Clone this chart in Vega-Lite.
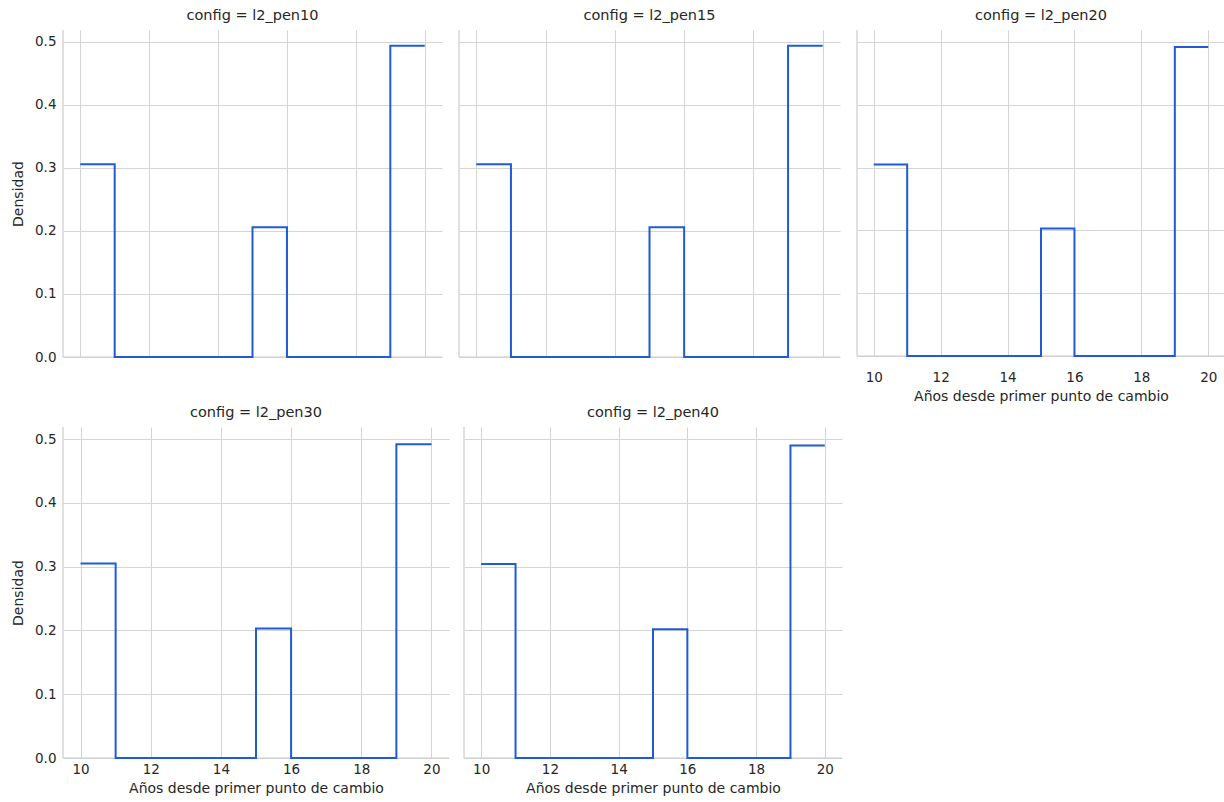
{
  "$schema": "https://vega.github.io/schema/vega-lite/v6.json",
  "padding": {"left": 11, "top": 7, "right": 0, "bottom": 0},
  "background": "white",
  "datasets": {
    "hist": [
      {"config": "l2_pen10", "bin_start": 10, "bin_end": 11, "density": 0.306},
      {"config": "l2_pen10", "bin_start": 11, "bin_end": 12, "density": 0},
      {"config": "l2_pen10", "bin_start": 12, "bin_end": 13, "density": 0},
      {"config": "l2_pen10", "bin_start": 13, "bin_end": 14, "density": 0},
      {"config": "l2_pen10", "bin_start": 14, "bin_end": 15, "density": 0},
      {"config": "l2_pen10", "bin_start": 15, "bin_end": 16, "density": 0.206},
      {"config": "l2_pen10", "bin_start": 16, "bin_end": 17, "density": 0},
      {"config": "l2_pen10", "bin_start": 17, "bin_end": 18, "density": 0},
      {"config": "l2_pen10", "bin_start": 18, "bin_end": 19, "density": 0},
      {"config": "l2_pen10", "bin_start": 19, "bin_end": 20, "density": 0.494},
      {"config": "l2_pen15", "bin_start": 10, "bin_end": 11, "density": 0.306},
      {"config": "l2_pen15", "bin_start": 11, "bin_end": 12, "density": 0},
      {"config": "l2_pen15", "bin_start": 12, "bin_end": 13, "density": 0},
      {"config": "l2_pen15", "bin_start": 13, "bin_end": 14, "density": 0},
      {"config": "l2_pen15", "bin_start": 14, "bin_end": 15, "density": 0},
      {"config": "l2_pen15", "bin_start": 15, "bin_end": 16, "density": 0.206},
      {"config": "l2_pen15", "bin_start": 16, "bin_end": 17, "density": 0},
      {"config": "l2_pen15", "bin_start": 17, "bin_end": 18, "density": 0},
      {"config": "l2_pen15", "bin_start": 18, "bin_end": 19, "density": 0},
      {"config": "l2_pen15", "bin_start": 19, "bin_end": 20, "density": 0.494},
      {"config": "l2_pen20", "bin_start": 10, "bin_end": 11, "density": 0.305},
      {"config": "l2_pen20", "bin_start": 11, "bin_end": 12, "density": 0},
      {"config": "l2_pen20", "bin_start": 12, "bin_end": 13, "density": 0},
      {"config": "l2_pen20", "bin_start": 13, "bin_end": 14, "density": 0},
      {"config": "l2_pen20", "bin_start": 14, "bin_end": 15, "density": 0},
      {"config": "l2_pen20", "bin_start": 15, "bin_end": 16, "density": 0.203},
      {"config": "l2_pen20", "bin_start": 16, "bin_end": 17, "density": 0},
      {"config": "l2_pen20", "bin_start": 17, "bin_end": 18, "density": 0},
      {"config": "l2_pen20", "bin_start": 18, "bin_end": 19, "density": 0},
      {"config": "l2_pen20", "bin_start": 19, "bin_end": 20, "density": 0.492},
      {"config": "l2_pen30", "bin_start": 10, "bin_end": 11, "density": 0.305},
      {"config": "l2_pen30", "bin_start": 11, "bin_end": 12, "density": 0},
      {"config": "l2_pen30", "bin_start": 12, "bin_end": 13, "density": 0},
      {"config": "l2_pen30", "bin_start": 13, "bin_end": 14, "density": 0},
      {"config": "l2_pen30", "bin_start": 14, "bin_end": 15, "density": 0},
      {"config": "l2_pen30", "bin_start": 15, "bin_end": 16, "density": 0.203},
      {"config": "l2_pen30", "bin_start": 16, "bin_end": 17, "density": 0},
      {"config": "l2_pen30", "bin_start": 17, "bin_end": 18, "density": 0},
      {"config": "l2_pen30", "bin_start": 18, "bin_end": 19, "density": 0},
      {"config": "l2_pen30", "bin_start": 19, "bin_end": 20, "density": 0.492},
      {"config": "l2_pen40", "bin_start": 10, "bin_end": 11, "density": 0.304},
      {"config": "l2_pen40", "bin_start": 11, "bin_end": 12, "density": 0},
      {"config": "l2_pen40", "bin_start": 12, "bin_end": 13, "density": 0},
      {"config": "l2_pen40", "bin_start": 13, "bin_end": 14, "density": 0},
      {"config": "l2_pen40", "bin_start": 14, "bin_end": 15, "density": 0},
      {"config": "l2_pen40", "bin_start": 15, "bin_end": 16, "density": 0.202},
      {"config": "l2_pen40", "bin_start": 16, "bin_end": 17, "density": 0},
      {"config": "l2_pen40", "bin_start": 17, "bin_end": 18, "density": 0},
      {"config": "l2_pen40", "bin_start": 18, "bin_end": 19, "density": 0},
      {"config": "l2_pen40", "bin_start": 19, "bin_end": 20, "density": 0.490}
    ]
  },
  "vconcat": [
    {
      "spacing": 15,
      "hconcat": [
        {
          "title": "config = l2_pen10",
          "width": 379,
          "height": 327,
          "data": {"name": "hist"},
          "layer": [
            {"data": {"values": [{}]}, "mark": {"type": "rule", "color": "#cccccc", "strokeWidth": 1.2}, "encoding": {"y": {"datum": 0, "type": "quantitative"}}},
            {"data": {"values": [{}]}, "mark": {"type": "rule", "color": "#cccccc", "strokeWidth": 1.2}, "encoding": {"x": {"datum": 9.5, "type": "quantitative"}}},
            {
              "transform": [{"filter": "datum.config === 'l2_pen10'"}, {"fold": ["bin_start", "bin_end"], "as": ["edge", "x"]}],
              "mark": {"type": "line", "color": "#1f5bd6", "strokeWidth": 2},
              "encoding": {
                "x": {"field": "x", "type": "quantitative", "scale": {"domain": [9.5, 20.5], "nice": false, "zero": false}, "axis": {"labels": false, "title": null, "values": [10, 12, 14, 16, 18, 20]}},
                "y": {"field": "density", "type": "quantitative", "scale": {"domain": [0, 0.519], "nice": false}, "axis": {"title": "Densidad", "values": [0, 0.1, 0.2, 0.3, 0.4, 0.5], "format": ".1f", "titlePadding": 9}},
                "order": [{"field": "bin_start", "type": "quantitative"}, {"field": "x", "type": "quantitative"}]
              }
            }
          ]
        },
        {
          "title": "config = l2_pen15",
          "width": 381,
          "height": 327,
          "data": {"name": "hist"},
          "layer": [
            {"data": {"values": [{}]}, "mark": {"type": "rule", "color": "#cccccc", "strokeWidth": 1.2}, "encoding": {"y": {"datum": 0, "type": "quantitative"}}},
            {"data": {"values": [{}]}, "mark": {"type": "rule", "color": "#cccccc", "strokeWidth": 1.2}, "encoding": {"x": {"datum": 9.5, "type": "quantitative"}}},
            {
              "transform": [{"filter": "datum.config === 'l2_pen15'"}, {"fold": ["bin_start", "bin_end"], "as": ["edge", "x"]}],
              "mark": {"type": "line", "color": "#1f5bd6", "strokeWidth": 2},
              "encoding": {
                "x": {"field": "x", "type": "quantitative", "scale": {"domain": [9.5, 20.5], "nice": false, "zero": false}, "axis": {"labels": false, "title": null, "values": [10, 12, 14, 16, 18, 20]}},
                "y": {"field": "density", "type": "quantitative", "scale": {"domain": [0, 0.519], "nice": false}, "axis": {"labels": false, "title": null, "values": [0, 0.1, 0.2, 0.3, 0.4, 0.5]}},
                "order": [{"field": "bin_start", "type": "quantitative"}, {"field": "x", "type": "quantitative"}]
              }
            }
          ]
        },
        {
          "title": "config = l2_pen20",
          "width": 368,
          "height": 326,
          "data": {"name": "hist"},
          "layer": [
            {"data": {"values": [{}]}, "mark": {"type": "rule", "color": "#cccccc", "strokeWidth": 1.2}, "encoding": {"y": {"datum": 0, "type": "quantitative"}}},
            {"data": {"values": [{}]}, "mark": {"type": "rule", "color": "#cccccc", "strokeWidth": 1.2}, "encoding": {"x": {"datum": 9.5, "type": "quantitative"}}},
            {
              "transform": [{"filter": "datum.config === 'l2_pen20'"}, {"fold": ["bin_start", "bin_end"], "as": ["edge", "x"]}],
              "mark": {"type": "line", "color": "#1f5bd6", "strokeWidth": 2},
              "encoding": {
                "x": {"field": "x", "type": "quantitative", "scale": {"domain": [9.5, 20.5], "nice": false, "zero": false}, "axis": {"title": "Años desde primer punto de cambio", "values": [10, 12, 14, 16, 18, 20], "format": "d", "labelPadding": 14, "titlePadding": 6}},
                "y": {"field": "density", "type": "quantitative", "scale": {"domain": [0, 0.519], "nice": false}, "axis": {"labels": false, "title": null, "values": [0, 0.1, 0.2, 0.3, 0.4, 0.5]}},
                "order": [{"field": "bin_start", "type": "quantitative"}, {"field": "x", "type": "quantitative"}]
              }
            }
          ]
        }
      ]
    },
    {
      "spacing": 13,
      "hconcat": [
        {
          "title": "config = l2_pen30",
          "width": 386,
          "height": 331,
          "data": {"name": "hist"},
          "layer": [
            {"data": {"values": [{}]}, "mark": {"type": "rule", "color": "#cccccc", "strokeWidth": 1.2}, "encoding": {"y": {"datum": 0, "type": "quantitative"}}},
            {"data": {"values": [{}]}, "mark": {"type": "rule", "color": "#cccccc", "strokeWidth": 1.2}, "encoding": {"x": {"datum": 9.5, "type": "quantitative"}}},
            {
              "transform": [{"filter": "datum.config === 'l2_pen30'"}, {"fold": ["bin_start", "bin_end"], "as": ["edge", "x"]}],
              "mark": {"type": "line", "color": "#1f5bd6", "strokeWidth": 2},
              "encoding": {
                "x": {"field": "x", "type": "quantitative", "scale": {"domain": [9.5, 20.5], "nice": false, "zero": false}, "axis": {"title": "Años desde primer punto de cambio", "values": [10, 12, 14, 16, 18, 20], "format": "d", "labelPadding": 4}},
                "y": {"field": "density", "type": "quantitative", "scale": {"domain": [0, 0.519], "nice": false}, "axis": {"title": "Densidad", "values": [0, 0.1, 0.2, 0.3, 0.4, 0.5], "format": ".1f", "titlePadding": 9}},
                "order": [{"field": "bin_start", "type": "quantitative"}, {"field": "x", "type": "quantitative"}]
              }
            }
          ]
        },
        {
          "title": "config = l2_pen40",
          "width": 378,
          "height": 331,
          "data": {"name": "hist"},
          "layer": [
            {"data": {"values": [{}]}, "mark": {"type": "rule", "color": "#cccccc", "strokeWidth": 1.2}, "encoding": {"y": {"datum": 0, "type": "quantitative"}}},
            {"data": {"values": [{}]}, "mark": {"type": "rule", "color": "#cccccc", "strokeWidth": 1.2}, "encoding": {"x": {"datum": 9.5, "type": "quantitative"}}},
            {
              "transform": [{"filter": "datum.config === 'l2_pen40'"}, {"fold": ["bin_start", "bin_end"], "as": ["edge", "x"]}],
              "mark": {"type": "line", "color": "#1f5bd6", "strokeWidth": 2},
              "encoding": {
                "x": {"field": "x", "type": "quantitative", "scale": {"domain": [9.5, 20.5], "nice": false, "zero": false}, "axis": {"title": "Años desde primer punto de cambio", "values": [10, 12, 14, 16, 18, 20], "format": "d", "labelPadding": 4}},
                "y": {"field": "density", "type": "quantitative", "scale": {"domain": [0, 0.519], "nice": false}, "axis": {"labels": false, "title": null, "values": [0, 0.1, 0.2, 0.3, 0.4, 0.5]}},
                "order": [{"field": "bin_start", "type": "quantitative"}, {"field": "x", "type": "quantitative"}]
              }
            }
          ]
        }
      ]
    }
  ],
  "spacing": 0,
  "config": {
    "font": "DejaVu Sans",
    "view": {"stroke": null},
    "title": {
      "font": "DejaVu Sans",
      "fontSize": 14.5,
      "fontWeight": "normal",
      "color": "#262626",
      "offset": 6
    },
    "axis": {
      "domain": false,
      "ticks": false,
      "grid": true,
      "gridColor": "#d4d4d4",
      "gridWidth": 1,
      "labelFont": "DejaVu Sans",
      "labelFontSize": 13.5,
      "labelColor": "#262626",
      "labelPadding": 7,
      "titleFont": "DejaVu Sans",
      "titleFontSize": 14,
      "titleFontWeight": "normal",
      "titleColor": "#262626",
      "titlePadding": 6
    }
  }
}
